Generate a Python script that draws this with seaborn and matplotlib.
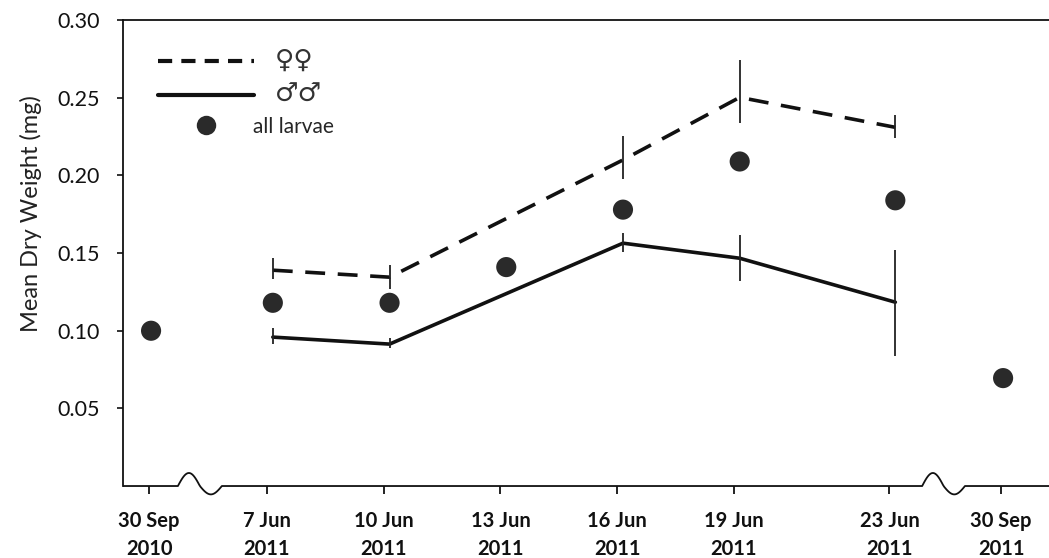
import numpy as np
import pandas as pd
import matplotlib.pyplot as plt
from matplotlib.lines import Line2D
import seaborn as sns

# sampling dates (tick labels) and their position on the broken time axis
dates = ['30 Sep\n2010', '7 Jun\n2011', '10 Jun\n2011', '13 Jun\n2011',
         '16 Jun\n2011', '19 Jun\n2011', '23 Jun\n2011', '30 Sep\n2011']
date_pos = [-3.03, 0, 3, 6, 9, 12, 16, 18.87]

# all larvae (one mean per date)
all_larvae = [0.100, 0.118, 0.118, 0.141, 0.178, 0.209, 0.184, 0.0695]

# sexed pupae, June 2011 only (7, 10, 16, 19, 23 Jun)
sex_idx = [1, 2, 4, 5, 6]
fem_mean = [0.139, 0.1345, 0.210, 0.2503, 0.231]
fem_lo = [0.1332, 0.1268, 0.1976, 0.2336, 0.2239]
fem_hi = [0.1467, 0.1422, 0.2252, 0.2741, 0.2387]
male_mean = [0.0959, 0.0914, 0.1564, 0.1467, 0.1184]
male_lo = [0.0914, 0.0888, 0.1506, 0.1319, 0.0837]
male_hi = [0.1017, 0.0952, 0.1628, 0.1615, 0.1519]

sns.set_style('ticks')
plt.rcParams['font.family'] = ['Lato', 'DejaVu Sans']

fig = plt.figure(figsize=(10.49, 5.58), dpi=100)
ax = fig.add_axes([0.1173, 0.129, 0.8827, 0.8348])

shift = 0.15  # marks sit slightly right of the tick marks
x_all = [p + (shift if 0 < i < 7 else 0.05) for i, p in enumerate(date_pos)]
x_sex = [date_pos[i] + shift for i in sex_idx]

df = pd.DataFrame({
    'x': x_sex * 2,
    'y': fem_mean + male_mean,
    'sex': ['f'] * 5 + ['m'] * 5,
})
sns.lineplot(data=df, x='x', y='y', style='sex', dashes={'f': (5.5, 3.5), 'm': ''},
             color='#111111', lw=2.6, legend=False, ax=ax, sort=False, errorbar=None)

fm = np.array(fem_mean)
mm = np.array(male_mean)
ax.errorbar(x_sex, fem_mean, yerr=[fm - np.array(fem_lo), np.array(fem_hi) - fm],
            fmt='none', ecolor='#222222', elinewidth=1.3, capsize=0)
ax.errorbar(x_sex, male_mean, yerr=[mm - np.array(male_lo), np.array(male_hi) - mm],
            fmt='none', ecolor='#222222', elinewidth=1.3, capsize=0)

sns.scatterplot(x=x_all, y=all_larvae, s=210, color='#2a2a2a', edgecolor='none',
                ax=ax, zorder=5)

ax.set_xlim(-3.70, 20.10)
ax.set_ylim(0, 0.30)
ax.set_yticks([0.05, 0.10, 0.15, 0.20, 0.25, 0.30])
ax.set_yticklabels(['0.05', '0.10', '0.15', '0.20', '0.25', '0.30'], fontsize=15.5)
ax.set_xticks(date_pos)
ax.set_xticklabels(dates, fontsize=14.5, fontweight='bold', linespacing=1.5)
ax.tick_params(axis='y', direction='out', length=4, width=1.2, pad=13, colors='#111111')
ax.tick_params(axis='x', direction='out', length=6, width=1.3, pad=12, colors='#111111')
ax.set_xlabel('')
ax.set_ylabel('Mean Dry Weight (mg)', fontsize=17, color='#222222')
ax.yaxis.set_label_coords(-0.0875, 0.585)

for side in ['left', 'top']:
    ax.spines[side].set_color('#111111')
    ax.spines[side].set_linewidth(1.3)
ax.spines['right'].set_visible(False)
ax.spines['bottom'].set_visible(False)

# bottom axis line with two wavy breaks
def squiggle(x0, x1, n=40):
    t = np.linspace(0, 1, n)
    y = np.where(t < 0.5, 0.028, 0.018) * np.sin(2 * np.pi * t)
    return list(x0 + (x1 - x0) * t), list(y)

xs, ys = [-3.70], [0]
for a, b in [(-2.29, -1.16), (16.84, 17.94)]:
    sx, sy = squiggle(a, b)
    xs += sx
    ys += sy
xs.append(20.10)
ys.append(0)
ax.plot(xs, ys, color='#111111', lw=1.3, transform=ax.get_xaxis_transform(),
        clip_on=False, solid_capstyle='butt')

handles = [
    Line2D([], [], color='#111111', lw=3, dashes=(3.4, 2.2)),
    Line2D([], [], color='#111111', lw=3),
    Line2D([], [], ls='none', marker='o', ms=14, color='#2a2a2a', mec='none'),
]
leg = ax.legend(handles, ['♀♀', '♂♂', 'all larvae'], loc='upper left', frameon=False,
                fontsize=15, handlelength=4.6, handletextpad=1.0, labelspacing=0.45,
                bbox_to_anchor=(0.022, 0.972), borderaxespad=0.3)
for t in leg.get_texts()[:2]:
    t.set_fontsize(19)
    t.set_color('#333333')
leg.get_texts()[2].set_x(-22)  # "all larvae" sits a little further left

fig.savefig('out.png', dpi=100)
